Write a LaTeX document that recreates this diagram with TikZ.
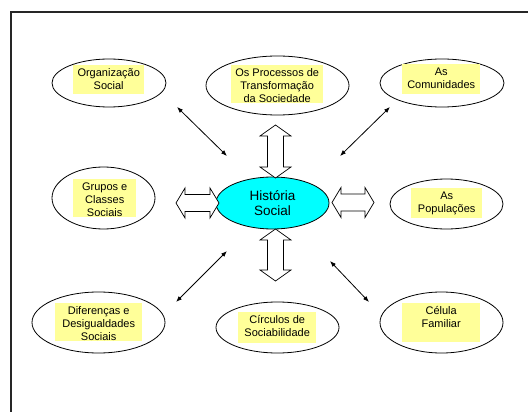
\documentclass[tikz,border=0pt]{standalone}
\usepackage{fontspec}
\setmainfont{Liberation Sans}
\usetikzlibrary{shapes.geometric,arrows.meta}
\definecolor{hl}{HTML}{FFFF99}
\definecolor{cy}{HTML}{00FFFF}
\newcommand\lbltxt[3]{\parbox[c][#2pt][t]{#1pt}{\centering\fontsize{11}{12.7}\selectfont\rule{0pt}{11.5pt}#3}}
\newcommand\vblockarrow[3]{% cx, ytop, ybottom
  \draw[blockarrow] (#1,#2) -- ++(15.5,11) -- ++(-7.5,0) -- (#1+8,#3-11) -- ++(7.5,0) -- (#1,#3)
    -- ++(-15.5,-11) -- ++(7.5,0) -- (#1-8,#2+11) -- ++(-7.5,0) -- cycle;}
\newcommand\hblockarrow[3]{% cy, xleft, xright
  \draw[blockarrow] (#2,#1) -- ++(9,-15) -- ++(0,6.5) -- (#3-9,#1-8.5) -- ++(0,-6.5) -- (#3,#1)
    -- ++(-9,15) -- ++(0,-6.5) -- (#2+9,#1+8.5) -- ++(0,6.5) -- cycle;}
\tikzset{
  oval/.style={ellipse, draw, line width=0.8pt, inner sep=0pt},
  lbl/.style={fill=hl, inner sep=0pt, anchor=north west},
  thin/.style={line width=0.8pt, {Latex[length=6pt,width=4.5pt]}-{Latex[length=6pt,width=4.5pt]}},
  blockarrow/.style={draw, fill=white, line width=0.7pt, line join=miter},
}
\begin{document}
\begin{tikzpicture}[x=1pt,y=-1pt]
\useasboundingbox (0,0) rectangle (528,412);
\fill[white] (0,0) rectangle (528,412);
% frame
\draw[line width=1.6pt, black!85] (11,430) -- (11,12) -- (545,12);

% ellipses
\node[oval, minimum width=114pt, minimum height=48pt] (org) at (109,83) {};
\node[oval, minimum width=143pt, minimum height=59pt] (proc) at (277.5,85.5) {};
\node[oval, minimum width=124pt, minimum height=48pt] (com) at (442,83) {};
\node[oval, minimum width=103pt, minimum height=62pt] (grp) at (103.5,198) {};
\node[oval, fill=cy, minimum width=113pt, minimum height=52pt] (hist) at (272.5,203) {};
\node[oval, minimum width=113pt, minimum height=50pt] (pop) at (446.5,204) {};
\node[oval, minimum width=133pt, minimum height=61pt] (dif) at (98.5,322.5) {};
\node[oval, minimum width=123pt, minimum height=51pt] (circ) at (277.5,327.5) {};
\node[oval, minimum width=123pt, minimum height=61pt] (cel) at (441.5,322.5) {};

% labels
\node[lbl] (torg) at (73,65) {\lbltxt{71}{29}{Organização\\Social}};
\node[lbl] (tproc) at (231,65) {\lbltxt{92}{38}{Os Processos de\\Transformação\\da Sociedade}};
\node[lbl] (tcom) at (402,64) {\lbltxt{78}{30}{As\\Comunidades}};
\node[lbl] (tgrp) at (73,179) {\lbltxt{63}{38}{Grupos e\\Classes\\Sociais}};
\node[lbl] (tpop) at (411,188) {\lbltxt{71}{30}{As\\Populações}};
\node[lbl] (tdif) at (55,303) {\lbltxt{87}{38}{Diferenças e\\Desigualdades\\Sociais}};
\node[lbl] (tcirc) at (238,312) {\lbltxt{78}{31}{Círculos de\\Sociabilidade}};
\node[lbl] (tcel) at (402,303) {\lbltxt{78}{39}{Célula\\Familiar}};
\node[align=center, font=\fontsize{13.5}{15}\selectfont] (thist) at (hist.center) {História\\Social};

% thin double arrows
\coordinate (a1s) at (177,107); \coordinate (a1e) at (227,156);
\coordinate (a2s) at (390,107); \coordinate (a2e) at (340,156);
\coordinate (a3s) at (227,251); \coordinate (a3e) at (176,302);
\coordinate (a4s) at (330,261); \coordinate (a4e) at (369,302);
\draw[thin] (a1s) -- (a1e);
\draw[thin] (a2s) -- (a2e);
\draw[thin] (a3s) -- (a3e);
\draw[thin] (a4s) -- (a4e);

% block arrows
\vblockarrow{275.5}{125}{178}
\vblockarrow{275.5}{229}{281}
\hblockarrow{203}{176}{219}
\hblockarrow{202.5}{332}{374}
\end{tikzpicture}
\end{document}
